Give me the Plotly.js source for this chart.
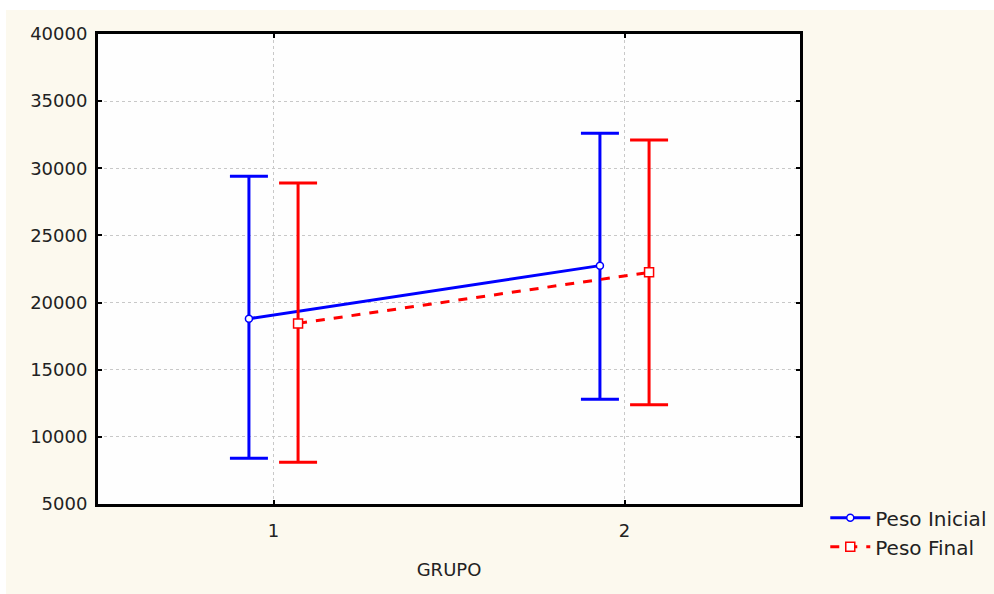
<!DOCTYPE html>
<html>
<head>
<meta charset="utf-8">
<script src="https://cdn.plot.ly/plotly-3.0.1.min.js"></script>
<style>
  html, body { margin: 0; padding: 0; background: #ffffff; width: 994px; height: 594px; overflow: hidden; }
  #chart { position: absolute; left: 6px; top: 10px; width: 988px; height: 584px; }
</style>
</head>
<body>
<div id="chart"></div>
<script>
const groups = [1, 2];
const seriesNames = ["Peso Inicial", "Peso Final"];
const inicialMean = [18800, 22750];
const inicialUpper = [29400, 32600];
const inicialLower = [8400, 12800];
const finalMean = [18450, 22250];
const finalUpper = [28900, 32100];
const finalLower = [8100, 12400];
const offset = 0.07;

const inicialX = groups.map(g => g - offset);
const finalX = groups.map(g => g + offset);

const traces = [
  {
    type: "scatter", mode: "lines+markers", name: seriesNames[0],
    x: inicialX, y: inicialMean,
    line: { color: "#0000ff", width: 3 },
    marker: { symbol: "circle", size: 7, color: "#ffffff", line: { color: "#0000ff", width: 1.5 } },
    error_y: {
      type: "data", symmetric: false,
      array: inicialUpper.map((u, i) => u - inicialMean[i]),
      arrayminus: inicialMean.map((m, i) => m - inicialLower[i]),
      color: "#0000ff", thickness: 3, width: 19
    }
  },
  {
    type: "scatter", mode: "lines+markers", name: seriesNames[1],
    x: finalX, y: finalMean,
    line: { color: "#ff0000", width: 3, dash: "dash" },
    marker: { symbol: "square", size: 9, color: "#ffffff", line: { color: "#ff0000", width: 1.5 } },
    error_y: {
      type: "data", symmetric: false,
      array: finalUpper.map((u, i) => u - finalMean[i]),
      arrayminus: finalMean.map((m, i) => m - finalLower[i]),
      color: "#ff0000", thickness: 3, width: 19
    }
  }
];

const layout = {
  width: 988, height: 584,
  margin: { l: 92, r: 194, t: 24, b: 90, autoexpand: false },
  paper_bgcolor: "#fcf9ee",
  plot_bgcolor: "#fefefe",
  font: { family: "DejaVu Sans, sans-serif", size: 18, color: "#222222" },
  showlegend: true,
  legend: {
    x: 1.036, y: 0.012, xanchor: "left", yanchor: "top",
    bgcolor: "rgba(0,0,0,0)", font: { family: "DejaVu Sans, sans-serif", size: 20, color: "#222222" },
    tracegroupgap: 0, itemwidth: 40
  },
  xaxis: {
    range: [0.5, 2.5], tickvals: groups, ticktext: groups.map(String),
    showgrid: true, gridcolor: "#c8c8c8", griddash: "dot", gridwidth: 1,
    showline: true, linecolor: "#000000", linewidth: 3, mirror: "ticks",
    ticks: "inside", ticklen: 4, tickwidth: 2, tickcolor: "#000000",
    zeroline: false, ticklabelstandoff: 8,
    title: { text: "GRUPO", font: { family: "DejaVu Sans, sans-serif", size: 18, color: "#222222" }, standoff: 24 },
    tickfont: { family: "DejaVu Sans, sans-serif", size: 18, color: "#222222" }
  },
  yaxis: {
    range: [5000, 40000], dtick: 5000, tickformat: "d",
    showgrid: true, gridcolor: "#c8c8c8", griddash: "dot", gridwidth: 1,
    showline: true, linecolor: "#000000", linewidth: 3, mirror: "ticks",
    ticks: "inside", ticklen: 4, tickwidth: 2, tickcolor: "#000000",
    zeroline: false, ticklabelstandoff: 4,
    tickfont: { family: "DejaVu Sans, sans-serif", size: 18, color: "#222222" }
  }
};

Plotly.newPlot("chart", traces, layout, { displayModeBar: false, staticPlot: true });
</script>
</body>
</html>
